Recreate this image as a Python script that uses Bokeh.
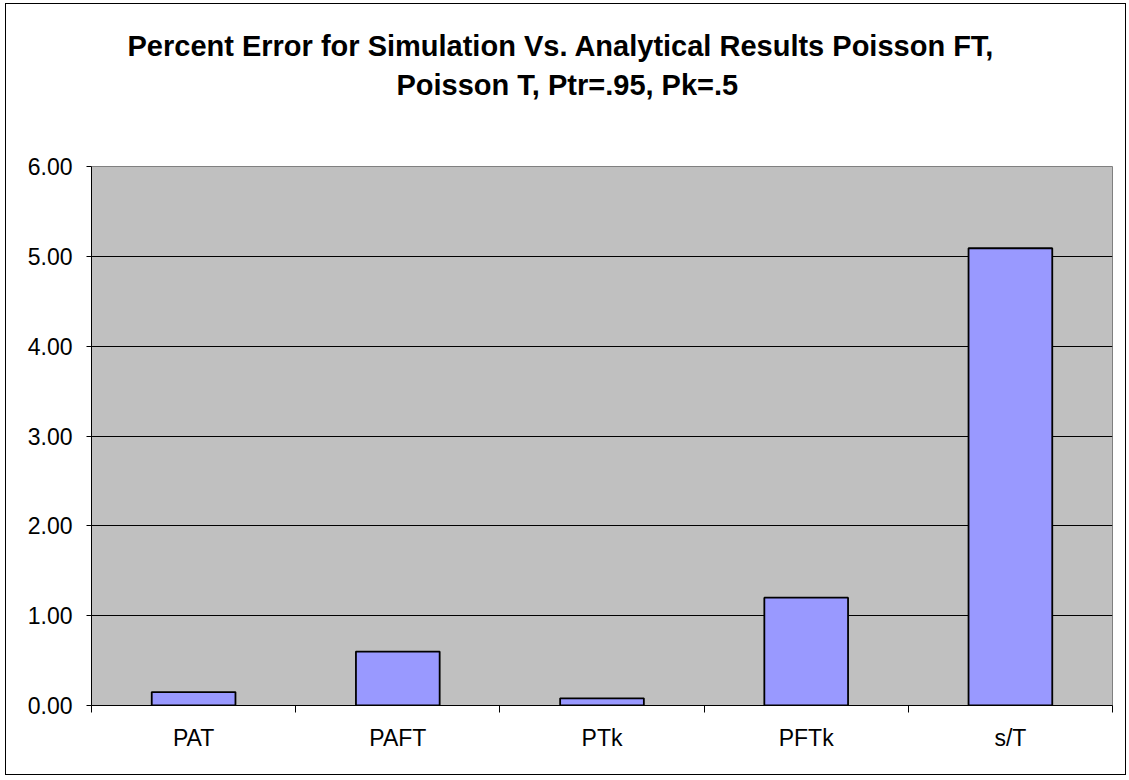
from bokeh.plotting import figure
from bokeh.models import FixedTicker, Range1d, Title, ColumnDataSource, LinearAxis
from bokeh.embed import file_html
from bokeh.resources import INLINE

categories = ["PAT", "PAFT", "PTk", "PFTk", "s/T"]
values = [0.15, 0.60, 0.08, 1.20, 5.09]
y_ticks = [0, 1, 2, 3, 4, 5, 6]
title_lines = ["Percent Error for Simulation Vs. Analytical Results  Poisson FT,",
               "Poisson T, Ptr=.95, Pk=.5"]

FONT = "Liberation Sans"

xs = [i + 0.5 for i in range(len(categories))]
src = ColumnDataSource(dict(x=xs, top=values, name=categories))

p = figure(width=1121, height=772, output_backend="svg", toolbar_location=None,
           x_range=Range1d(0, len(categories)), y_range=Range1d(0, 6),
           min_border_left=85, min_border_right=15, min_border_top=162, min_border_bottom=71)
p.title = None
p.background_fill_color = "#C0C0C0"
p.border_fill_color = "white"
p.outline_line_color = "#808080"
p.outline_line_width = 1
p.styles = {"border": "1px solid #000000", "margin": "3px 0px 0px 5px"}

p.vbar(x="x", top="top", width=0.41, bottom=0, source=src,
       fill_color="#9999FF", line_color="black", line_width=1.8)

# x axis: labels at centers, ticks at category boundaries (minor ticks)
p.xaxis.ticker = FixedTicker(ticks=xs, minor_ticks=list(range(len(categories) + 1)))
p.xaxis.major_label_overrides = {x: c for x, c in zip(xs, categories)}
p.xaxis.major_tick_out = 0
p.xaxis.major_tick_in = 0
p.xaxis.minor_tick_out = 7
p.xaxis.minor_tick_in = 0
p.xaxis.minor_tick_line_color = "black"
p.xaxis.axis_line_color = "black"
p.xaxis.major_label_text_font = FONT
p.xaxis.major_label_text_font_size = "23px"
p.xaxis.major_label_text_color = "black"
p.xaxis.major_label_standoff = 12

p.yaxis.ticker = FixedTicker(ticks=y_ticks, minor_ticks=[])
p.yaxis.major_label_overrides = {t: f"{t:.2f}" for t in y_ticks}
p.yaxis.major_tick_out = 5
p.yaxis.major_tick_in = 0
p.yaxis.major_tick_line_color = "black"
p.yaxis.axis_line_color = "black"
p.yaxis.major_label_text_font = FONT
p.yaxis.major_label_text_font_size = "23px"
p.yaxis.major_label_text_color = "black"
p.yaxis.major_label_standoff = 14

p.xgrid.grid_line_color = None
p.ygrid.grid_line_color = "black"
p.ygrid.grid_line_width = 1

# white-on-white spacer axis between plot area and the title block
spacer = LinearAxis(ticker=FixedTicker(ticks=[0], minor_ticks=[]), axis_line_color=None,
                    major_tick_line_color="white", major_tick_out=62, major_tick_in=0,
                    minor_tick_out=0, minor_tick_in=0,
                    major_label_overrides={0: ""}, major_label_text_font_size="1px",
                    major_label_text_color="white", major_label_standoff=0)
p.add_layout(spacer, "above")

offsets = [36, 305]
standoffs = [4, 7]
for line, off, so in reversed(list(zip(title_lines, offsets, standoffs))):
    t = Title(text=line, align="left", text_font=FONT, text_font_size="29px",
              text_font_style="bold", text_color="black", offset=off, standoff=so)
    p.add_layout(t, "above")

open("out.html", "w").write(file_html(p, INLINE))
